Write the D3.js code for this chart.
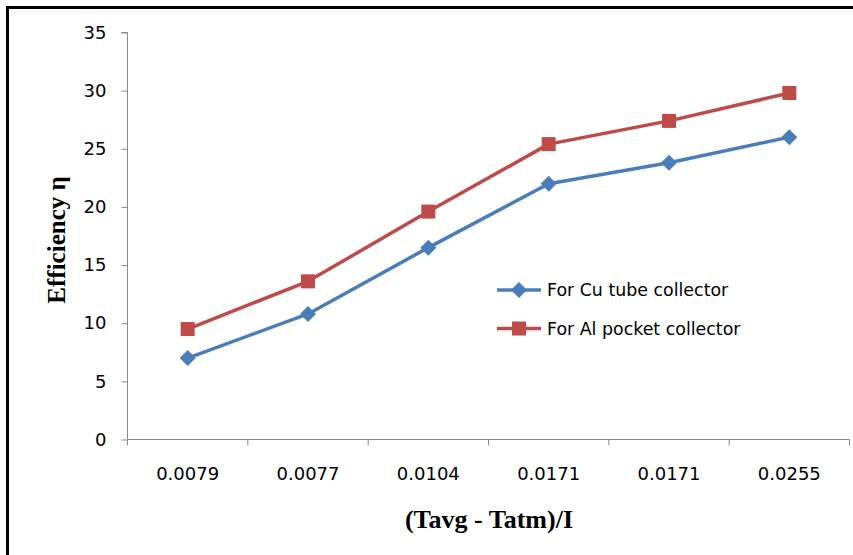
<!DOCTYPE html>
<html><head><meta charset="utf-8">
<script src="https://cdn.jsdelivr.net/npm/d3@7"></script>
<style>body{margin:0;background:#fff}svg{display:block}</style>
</head><body>
<svg id="c" width="853" height="555"></svg>
<script>
const categories = ["0.0079","0.0077","0.0104","0.0171","0.0171","0.0255"];
const cuValues = [7.0, 10.8, 16.5, 22.0, 23.8, 26.0];
const alValues = [9.5, 13.6, 19.6, 25.4, 27.4, 29.8];
const yTicks = [0,5,10,15,20,25,30,35];
const seriesNames = ["For Cu tube collector","For Al pocket collector"];
const colors = ["#4a7ebb","#be4b48"];

const svg = d3.select("#c");
const W=853,H=555;
svg.append("rect").attr("x",7.5).attr("y",7.5).attr("width",W+10).attr("height",H+10)
  .attr("fill","#fff").attr("stroke","#000").attr("stroke-width",3);

const x0=127.5, x1=849.5, yTop=32.5, yBot=439.5;
const idx = categories.map((d,i)=>i);
const xb = d3.scaleBand().domain(idx).range([x0,x1]);
const y = d3.scaleLinear().domain([0,35]).range([yBot,yTop]);
const xc = i=>xb(i)+xb.bandwidth()/2;

// Y axis
const ya = svg.append("g").attr("transform",`translate(${x0},0)`)
  .call(d3.axisLeft(y).tickValues(yTicks).tickSize(6).tickPadding(15).tickFormat(d3.format("d")));
ya.select(".domain").attr("stroke","#898989").attr("d",`M-6,${yTop}H0V${yBot}`);
ya.selectAll(".tick line").attr("stroke","#898989");
ya.selectAll("text").attr("font-family","DejaVu Sans").attr("font-size",18).attr("fill","#000");

// X axis
const xa = svg.append("g").attr("transform",`translate(0,${yBot})`);
xa.append("line").attr("x1",x0).attr("x2",x1).attr("stroke","#898989");
const bounds = idx.map(i=>xb(i)).concat([x1]);
xa.selectAll("line.t").data(bounds).join("line").attr("class","t")
  .attr("x1",d=>d).attr("x2",d=>d).attr("y1",0).attr("y2",6).attr("stroke","#898989");
xa.selectAll("text").data(categories).join("text")
  .attr("x",(d,i)=>xc(i)).attr("y",40).attr("text-anchor","middle")
  .attr("font-family","DejaVu Sans").attr("font-size",18).attr("fill","#000").text(d=>d);

// Axis titles
svg.append("text").attr("x",489).attr("y",528).attr("text-anchor","middle")
  .attr("font-family","Liberation Serif").attr("font-weight","bold").attr("font-size",26).text("(Tavg - Tatm)/I");
svg.append("text").attr("transform","translate(65,240) rotate(-90)").attr("text-anchor","middle")
  .attr("font-family","Liberation Serif").attr("font-weight","bold").attr("font-size",25).text("Efficiency η");

const line = d3.line().x((d,i)=>xc(i)).y(d=>y(d));
const dia = r=>`M0,${-r}L${r},0L0,${r}L${-r},0Z`;

[cuValues, alValues].forEach((vals,s)=>{
  svg.append("path").datum(vals).attr("d",line).attr("fill","none")
    .attr("stroke",colors[s]).attr("stroke-width",3.5).attr("stroke-linejoin","round");
  const g = svg.append("g");
  vals.forEach((v,i)=>{
    if(s===0){
      g.append("path").attr("d",dia(8)).attr("transform",`translate(${xc(i)},${y(v)})`)
        .attr("fill",colors[0]);
    } else {
      g.append("rect").attr("x",xc(i)-7).attr("y",y(v)-7).attr("width",14).attr("height",14).attr("fill",colors[1]);
    }
  });
});

// Legend
const lg = svg.append("g");
seriesNames.forEach((n,s)=>{
  const ly = 290 + s*38.5;
  lg.append("line").attr("x1",497).attr("x2",541).attr("y1",ly).attr("y2",ly)
    .attr("stroke",colors[s]).attr("stroke-width",3.5);
  if(s===0) lg.append("path").attr("d",dia(8)).attr("transform",`translate(519,${ly})`).attr("fill",colors[0]);
  else lg.append("rect").attr("x",512).attr("y",ly-7).attr("width",14).attr("height",14).attr("fill",colors[1]);
  lg.append("text").attr("x",547).attr("y",ly+6).attr("font-family","DejaVu Sans").attr("font-size",17.4)
    .attr("fill","#000").text(n);
});
</script>
</body></html>
